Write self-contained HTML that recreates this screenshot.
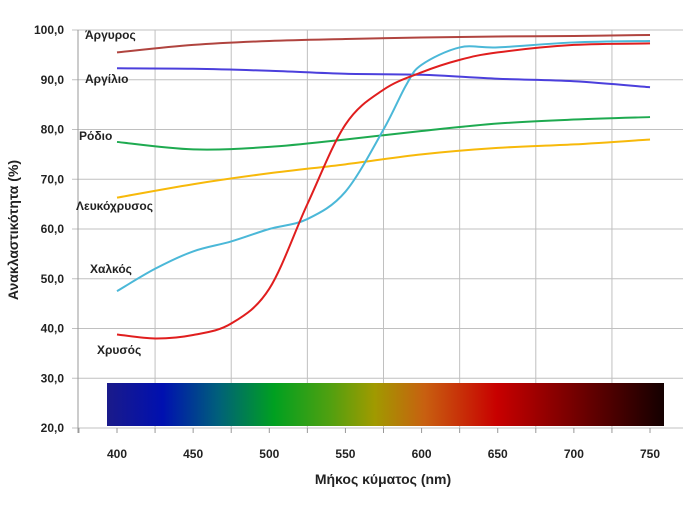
<!DOCTYPE html>
<html><head><meta charset="utf-8"><style>
body{margin:0;background:#fff;width:683px;height:512px;overflow:hidden}
svg{display:block;font-family:"Liberation Sans",sans-serif}
</style></head><body>
<svg id="s" width="683" height="512" xmlns="http://www.w3.org/2000/svg">
<defs><linearGradient id="sp" x1="0" x2="1" y1="0" y2="0">
<stop offset="0" stop-color="#1a1a8a"/><stop offset="0.1" stop-color="#0010b0"/><stop offset="0.2" stop-color="#00607a"/>
<stop offset="0.3" stop-color="#00a020"/><stop offset="0.4" stop-color="#50a010"/><stop offset="0.48" stop-color="#a09a00"/>
<stop offset="0.57" stop-color="#c86010"/><stop offset="0.7" stop-color="#c80000"/><stop offset="0.82" stop-color="#800000"/>
<stop offset="1" stop-color="#140000"/></linearGradient></defs>
<g id="grid" stroke="#c0c0c0" stroke-width="1"></g>
<rect x="107" y="383" width="557" height="43" fill="url(#sp)"/>
<g id="curves" fill="none" stroke-width="2"></g>
<g font-size="12" font-weight="bold" fill="#222">
<text x="85" y="39">Άργυρος</text>
<text x="85" y="83">Αργίλιο</text>
<text x="79" y="140">Ρόδιο</text>
<text x="76" y="210">Λευκόχρυσος</text>
<text x="90" y="273">Χαλκός</text>
<text x="97" y="354">Χρυσός</text>
</g>
<g id="lab" font-size="12" font-weight="bold" fill="#222"></g>
<text x="383" y="484" font-size="14" font-weight="bold" text-anchor="middle" fill="#222">Μήκος κύματος (nm)</text>
<text transform="translate(18,230) rotate(-90)" font-size="14" font-weight="bold" text-anchor="middle" fill="#222">Ανακλαστικότητα (%)</text>
</svg>
<script>
const X=n=>117+(n-400)*1.5229, Y=v=>30+(100-v)*4.975;
let g=document.getElementById('grid'),lab=document.getElementById('lab'),h='',l='';
for(let v=20;v<=100;v+=10){h+=`<line x1="72" x2="683" y1="${Y(v)}" y2="${Y(v)}"/>`;
l+=`<text x="64" y="${Y(v)+4}" text-anchor="end">${v},0</text>`;}
for(let n=425;n<=725;n+=50)h+=`<line x1="${X(n)}" x2="${X(n)}" y1="${Y(100)}" y2="${Y(20)}"/>`;
h+=`<line x1="78" x2="78" y1="${Y(100)}" y2="${Y(20)+5}" stroke="#999"/>`;
for(let n=375;n<=775;n+=25)h+=`<line x1="${X(n)}" x2="${X(n)}" y1="${Y(20)}" y2="${Y(20)+5}" stroke="#999"/>`;
for(let n=400;n<=750;n+=50)l+=`<text x="${X(n)}" y="${Y(20)+30}" text-anchor="middle">${n}</text>`;
g.innerHTML=h;lab.innerHTML=l;
const S=[
['#b0443f',[[400,95.5],[450,97],[500,97.8],[550,98.2],[600,98.5],[650,98.7],[700,98.8],[750,99]]],
['#4b3fdc',[[400,92.3],[450,92.2],[500,91.8],[550,91.2],[600,91],[650,90.2],[700,89.7],[750,88.5]]],
['#1eaa50',[[400,77.5],[450,76],[500,76.5],[550,78],[600,79.7],[650,81.2],[700,82],[750,82.5]]],
['#f7b90a',[[400,66.3],[450,69],[500,71.2],[550,73],[600,75],[650,76.3],[700,77],[750,78]]],
['#4bb8d8',[[400,47.5],[425,52],[450,55.5],[475,57.5],[500,60],[525,62],[550,67.5],[575,80],[590,89],[600,93],[625,96.5],[650,96.5],[700,97.5],[750,97.8]]],
['#e01e1e',[[400,38.8],[425,38],[450,38.7],[475,41],[500,48],[525,65],[550,81],[575,88],[600,91.5],[625,94],[650,95.5],[700,97],[750,97.3]]]];
let c='';
for(const [col,d] of S){const p=d.map(([n,v])=>[X(n),Y(v)]);let s=`M${p[0]}`;
for(let i=0;i<p.length-1;i++){const a=p[Math.max(i-1,0)],b=p[i],e=p[i+1],f=p[Math.min(i+2,p.length-1)];
s+=` C${b[0]+(e[0]-a[0])/6},${b[1]+(e[1]-a[1])/6} ${e[0]-(f[0]-b[0])/6},${e[1]-(f[1]-b[1])/6} ${e[0]},${e[1]}`;}
c+=`<path d="${s}" stroke="${col}"/>`;}
document.getElementById('curves').innerHTML=c;
</script>
</body></html>
